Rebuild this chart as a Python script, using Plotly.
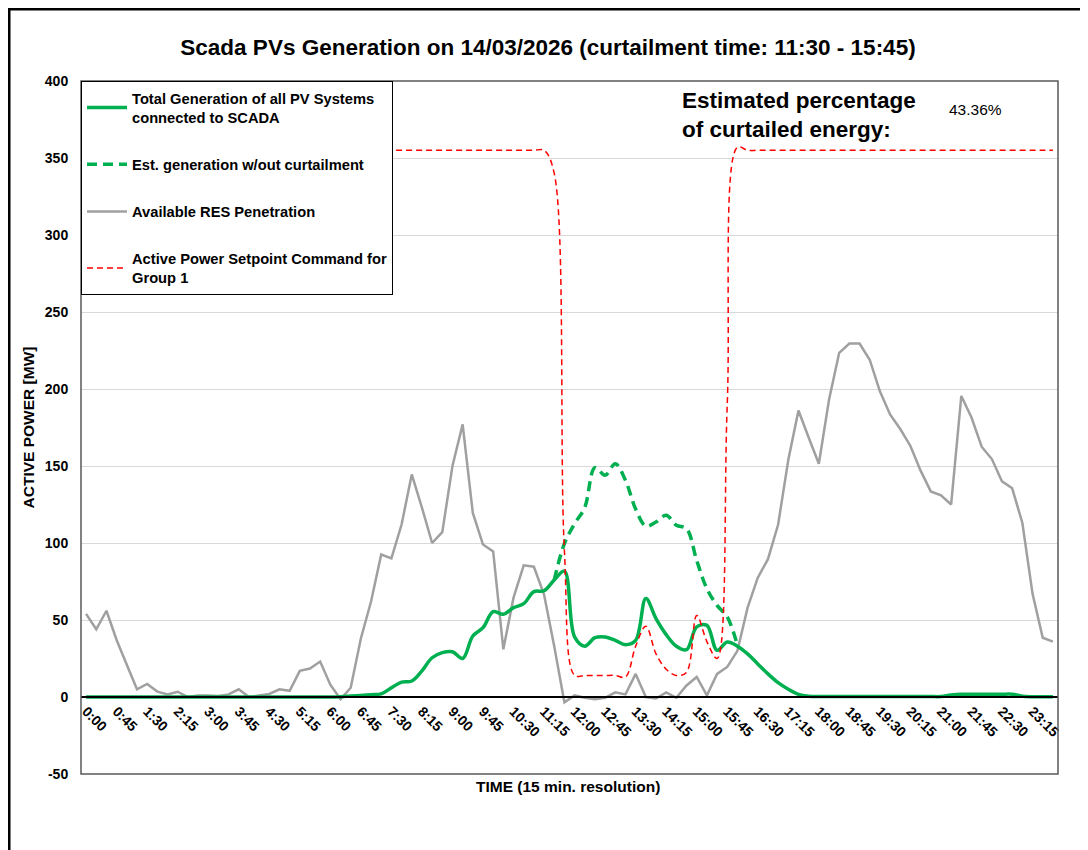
import plotly.graph_objects as go

# ---------------- data ----------------
times = [
    "0:00", "0:15", "0:30", "0:45", "1:00", "1:15", "1:30", "1:45",
    "2:00", "2:15", "2:30", "2:45", "3:00", "3:15", "3:30", "3:45",
    "4:00", "4:15", "4:30", "4:45", "5:00", "5:15", "5:30", "5:45",
    "6:00", "6:15", "6:30", "6:45", "7:00", "7:15", "7:30", "7:45",
    "8:00", "8:15", "8:30", "8:45", "9:00", "9:15", "9:30", "9:45",
    "10:00", "10:15", "10:30", "10:45", "11:00", "11:15", "11:30", "11:45",
    "12:00", "12:15", "12:30", "12:45", "13:00", "13:15", "13:30", "13:45",
    "14:00", "14:15", "14:30", "14:45", "15:00", "15:15", "15:30", "15:45",
    "16:00", "16:15", "16:30", "16:45", "17:00", "17:15", "17:30", "17:45",
    "18:00", "18:15", "18:30", "18:45", "19:00", "19:15", "19:30", "19:45",
    "20:00", "20:15", "20:30", "20:45", "21:00", "21:15", "21:30", "21:45",
    "22:00", "22:15", "22:30", "22:45", "23:00", "23:15", "23:30", "23:45",
]

tick_labels = [
    "0:00", "0:45", "1:30", "2:15", "3:00", "3:45", "4:30", "5:15",
    "6:00", "6:45", "7:30", "8:15", "9:00", "9:45", "10:30", "11:15",
    "12:00", "12:45", "13:30", "14:15", "15:00", "15:45", "16:30", "17:15",
    "18:00", "18:45", "19:30", "20:15", "21:00", "21:45", "22:30", "23:15",
]

y_tick_values = [-50, 0, 50, 100, 150, 200, 250, 300, 350, 400]
y_tick_labels = ["-50", "0", "50", "100", "150", "200", "250", "300", "350", "400"]

total_generation = [
    0, 0, 0, 0, 0, 0, 0, 0,
    0, 0, 0, 0, 0, 0, 0, 0,
    0, 0, 0, 0, 0, 0, 0, 0,
    0, 0.2, 0.6, 1, 1.5, 2, 6, 9.7,
    10.4, 17, 25.5, 28.8, 29.4, 25, 39.6, 45,
    55.4, 53.7, 58, 60.6, 68.4, 69, 76, 81.8,
    39, 33, 38.5, 39, 36.8, 34, 36.8, 63.9,
    50.9, 40.5, 33, 30.7, 45.5, 46.5, 30.3, 35.7,
    33, 28, 21.5, 15, 9.3, 5, 1.7, 0.5,
    0.3, 0.3, 0.3, 0.3, 0.3, 0.3, 0.3, 0.3,
    0.3, 0.3, 0.3, 0.3, 0.3, 1.3, 1.8, 1.8,
    1.8, 1.8, 1.8, 1.8, 0.5, 0.2, 0.2, 0.2,
]

est_generation = [
    None, None, None, None, None, None, None, None,
    None, None, None, None, None, None, None, None,
    None, None, None, None, None, None, None, None,
    None, None, None, None, None, None, None, None,
    None, None, None, None, None, None, None, None,
    None, None, None, None, None, None, 76, 99.6,
    112.5, 123, 149, 144, 151.5, 140.7, 122, 111,
    113.6, 118, 111.5, 109.3, 88.7, 70.3, 59.5, 52,
    33.5, None, None, None, None, None, None, None,
    None, None, None, None, None, None, None, None,
    None, None, None, None, None, None, None, None,
    None, None, None, None, None, None, None, None,
]

res_penetration = [
    54, 44, 56, 37, 21, 5, 8.5, 3.5,
    1.7, 3.4, 0, 1, 1, 0.7, 1.7, 5,
    0, 1, 2, 5, 4, 17, 18.5, 23,
    8, -1.5, 6, 38, 62, 92.5, 90, 112,
    144.5, 123, 100, 107, 150, 177, 119.5, 99,
    94.5, 31, 64.5, 85.5, 84.6, 66.5, 33, -3.5,
    1, -0.5, -1.5, -0.5, 3, 1.7, 15, 0,
    -1, 3, -0.5, 7.5, 13, 1, 15, 19.5,
    30, 58, 77.5, 89.5, 112, 154, 186, 168.5,
    151.5, 193, 223.5, 229.5, 229.5, 219, 198.5, 183.5,
    174, 163, 147, 133.5, 131, 125, 195.5, 181.5,
    162.5, 154.5, 140, 135.5, 113, 67, 38.5, 36,
]

setpoint_group1 = [
    355, 355, 355, 355, 355, 355, 355, 355,
    355, 355, 355, 355, 355, 355, 355, 355,
    355, 355, 355, 355, 355, 355, 355, 355,
    355, 355, 355, 355, 355, 355, 355, 355,
    355, 355, 355, 355, 355, 355, 355, 355,
    355, 355, 355, 355, 355, 355, 340, 95,
    14, 14, 14, 14, 14, 13, 33, 46,
    28, 18, 14, 16, 53, 36, 25, 190,
    357, 355, 355, 355, 355, 355, 355, 355,
    355, 355, 355, 355, 355, 355, 355, 355,
    355, 355, 355, 355, 355, 355, 355, 355,
    355, 355, 355, 355, 355, 355, 355, 355,
]

curtailed_pct = "43.36%"

# ---------------- figure ----------------
FONT = "Liberation Sans, Arial, sans-serif"
GREEN = "#00B050"

fig = go.Figure()

fig.add_trace(go.Scatter(
    x=times, y=res_penetration, mode="lines",
    name="Available RES Penetration",
    line=dict(color="#A0A0A0", width=2.5),
    legendrank=3, legendgroup="c",
))
fig.add_trace(go.Scatter(
    x=times, y=est_generation, mode="lines",
    name="Est. generation w/out curtailment",
    line=dict(color=GREEN, width=3.5, dash="10px,6px", shape="spline"),
    legendrank=2, legendgroup="b",
))
fig.add_trace(go.Scatter(
    x=times, y=total_generation, mode="lines",
    name="Total Generation of all PV Systems<br>connected to SCADA",
    line=dict(color=GREEN, width=3.5, shape="spline"),
    legendrank=1, legendgroup="a",
))
fig.add_trace(go.Scatter(
    x=times, y=setpoint_group1, mode="lines",
    name="Active Power Setpoint Command for<br>Group 1",
    line=dict(color="#FF0000", width=1.5, dash="6px,4px", shape="spline"),
    legendrank=4, legendgroup="d",
))

y_min, y_max = -50, 400

# figure is 1080x842 (page body adds an 8px offset)
fig.update_layout(
    width=1080, height=842,
    margin=dict(l=73, r=30, t=73, b=76),
    paper_bgcolor="white", plot_bgcolor="white",
    font=dict(family=FONT, color="black"),
    title=dict(
        text="<b>Scada PVs Generation on 14/03/2026 (curtailment time: 11:30 - 15:45)</b>",
        x=540 / 1080, xanchor="center", y=1 - 39 / 842, yanchor="middle",
        font=dict(size=22.5, family=FONT, color="black"),
    ),
    showlegend=True,
    legend=dict(
        x=0, y=1, xanchor="left", yanchor="top",
        bgcolor="white", bordercolor="black", borderwidth=1,
        font=dict(size=14.7, family=FONT, color="black", weight="bold"),
        traceorder="grouped", tracegroupgap=25,
        itemwidth=40,
    ),
    xaxis=dict(
        type="category",
        range=[-0.5, len(times) - 0.5],
        tickmode="array", tickvals=tick_labels, ticktext=tick_labels,
        tickangle=45,
        tickfont=dict(size=14, family=FONT, color="black", weight="bold"),
        anchor="free", position=(0 - y_min) / (y_max - y_min),
        showline=True, linecolor="black", linewidth=1.5,
        showgrid=False, zeroline=False, ticks="",
    ),
    yaxis=dict(
        range=[y_min, y_max],
        tickmode="array", tickvals=y_tick_values, ticktext=y_tick_labels,
        showgrid=True, gridcolor="#D9D9D9", gridwidth=1,
        zeroline=False, showline=False,
        ticks="outside", ticklen=9, tickcolor="rgba(0,0,0,0)",
        tickfont=dict(size=14, family=FONT, color="black", weight="bold"),
        title=dict(text="<b>ACTIVE POWER [MW]</b>", standoff=6,
                   font=dict(size=15.5, family=FONT, color="black")),
    ),
    shapes=[
        # plot-area border
        dict(type="rect", xref="paper", yref="paper", x0=0, y0=0, x1=1, y1=1,
             line=dict(color="#595959", width=1.5), layer="above"),
        # outer chart frame
        dict(type="rect", xref="paper", yref="paper",
             x0=(1 - 73) / 977, y0=(766 - 900) / 693,
             x1=(1120 - 73) / 977, y1=(766 - 1) / 693,
             line=dict(color="black", width=3), layer="above"),
    ],
    annotations=[
        dict(text="<b>Estimated percentage<br>of curtailed energy:</b>",
             xref="paper", yref="paper",
             x=(680 - 81) / 977, y=(774 - 86) / 693,
             xanchor="left", yanchor="top", align="left", showarrow=False,
             font=dict(size=22.5, family=FONT, color="black")),
        dict(text=curtailed_pct, xref="paper", yref="paper",
             x=(975 - 81) / 977, y=(774 - 110) / 693,
             xanchor="center", yanchor="middle", showarrow=False,
             font=dict(size=15.5, family=FONT, color="black")),
        dict(text="<b>TIME (15 min. resolution)</b>", xref="paper", yref="paper",
             x=(568 - 81) / 977, y=(774 - 786) / 693,
             xanchor="center", yanchor="middle", showarrow=False,
             font=dict(size=15.5, family=FONT, color="black")),
    ],
)

fig.write_html("out.html")
